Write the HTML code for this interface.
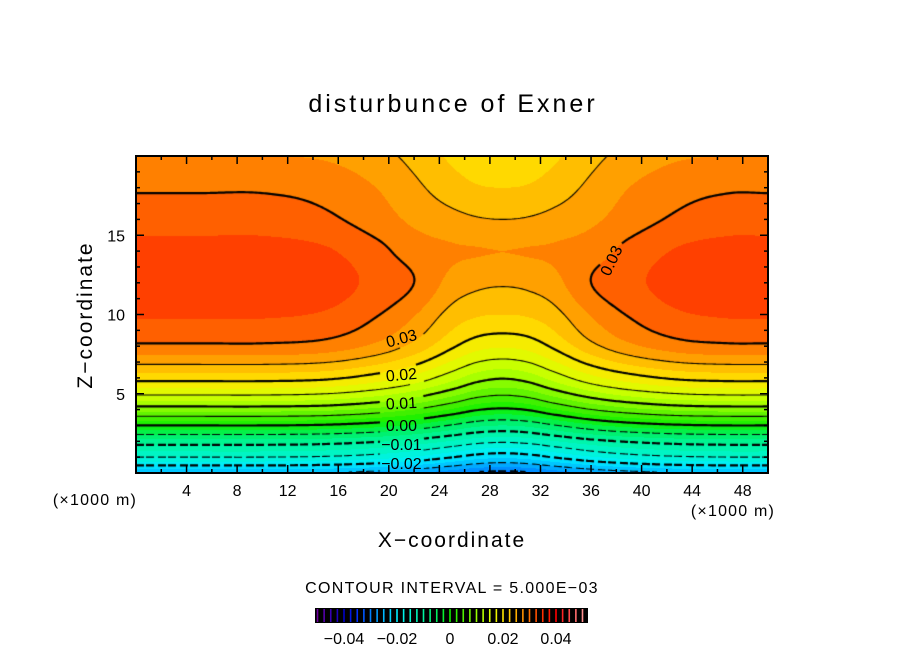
<!DOCTYPE html>
<html><head><meta charset="utf-8"><style>
html,body{margin:0;padding:0;background:#fff;}
#wrap{position:relative;width:904px;height:654px;overflow:hidden;font-family:"Liberation Sans",sans-serif;}
canvas{position:absolute;left:136px;top:156px;}
svg{position:absolute;left:0;top:0;}
</style></head><body>
<div id="wrap">
<canvas id="cv" width="632" height="317"></canvas>
<svg id="sv" width="904" height="654">
<text x="453" y="112" font-size="25" text-anchor="middle" letter-spacing="3">disturbunce of Exner</text>
<text x="452" y="547" font-size="21" text-anchor="middle" letter-spacing="2">X−coordinate</text>
<text transform="translate(92,315) rotate(-90)" font-size="21" text-anchor="middle" letter-spacing="2">Z−coordinate</text>
<text x="95" y="505" font-size="16" text-anchor="middle" letter-spacing="1.2">(×1000 m)</text>
<text x="733" y="516" font-size="16" text-anchor="middle" letter-spacing="1.2">(×1000 m)</text>
<text x="452" y="593" font-size="16" text-anchor="middle" letter-spacing="1.3">CONTOUR INTERVAL = 5.000E−03</text>
<g id="ticks"></g>
<g id="clabels"></g>
<rect x="136" y="156" width="632" height="317" fill="none" stroke="#000" stroke-width="2"/>
<g id="cbar"></g>
</svg>
</div>
<script>
const xStations=[0,5,10,15,19,22,25,27,29,31,33,36,39,43,47,50];
const zLevels=[0,1,2,3,4,5,6,8,10,12,14,16,18,20];
const colE=[-0.025,-0.015,-0.0085,0,0.0085,0.0155,0.021,0.0295,0.0328,0.0342,0.0335,0.0313,0.0297,0.0275];
const col05=[-0.0253,-0.0154,-0.0088,-0.0004,0.0081,0.015,0.0205,0.0289,0.0322,0.0336,0.0328,0.0305,0.0291,0.0272];
const col20=[-0.0262,-0.0164,-0.0097,-0.0015,0.0067,0.0135,0.0188,0.0269,0.0302,0.0318,0.0308,0.0287,0.0275,0.0259];
const col40=[-0.0274,-0.0178,-0.0109,-0.003,0.0049,0.0115,0.0167,0.0242,0.0277,0.0300,0.0288,0.027,0.0256,0.0242];
const col70=[-0.0292,-0.0199,-0.0127,-0.0053,0.0022,0.0085,0.0134,0.0204,0.024,0.0266,0.0278,0.0258,0.0236,0.022];
const col92=[-0.0305,-0.0214,-0.014,-0.0069,0.0002,0.0063,0.0111,0.0184,0.0228,0.0256,0.0276,0.0252,0.0227,0.0212];
const colC=[-0.031,-0.022,-0.0145,-0.0075,-0.0005,0.0055,0.0102,0.0178,0.0225,0.0253,0.0275,0.025,0.0225,0.021];
const exnerColumns=[colE,colE,colE,col05,col20,col40,col70,col92,colC,col92,col70,col40,col20,col05,colE,colE];
const xTickLabels=[4,8,12,16,20,24,28,32,36,40,44,48];
const zTickLabels=[5,10,15];
const cbarTickLabels=[-0.04,-0.02,0,0.02,0.04];
const cbarTickText=["−0.04","−0.02","0","0.02","0.04"];
const contourLabels=[
 {t:"0.03",x:21,z:8.5,r:-15},{t:"0.02",x:21,z:6.2,r:-5},{t:"0.01",x:21,z:4.4,r:-3},
 {t:"0.00",x:21,z:3.0,r:0},{t:"−0.01",x:21,z:1.8,r:0},{t:"−0.02",x:21,z:0.6,r:0},
 {t:"0.03",x:37.6,z:13.4,r:-65}];

const PX0=136,PY0=156,PW=632,PH=317;
const X=x=>PX0+x/50*PW;
const Z=z=>PY0+PH-z/20*PH;
const CX=v=>450+v*2650;
const NS='http://www.w3.org/2000/svg';

function herm(xs,ys,x){
  const n=xs.length;
  if(x<=xs[0])return ys[0]; if(x>=xs[n-1])return ys[n-1];
  let i=0; while(i<n-2&&x>xs[i+1])i++;
  const x0=xs[i],x1=xs[i+1],y0=ys[i],y1=ys[i+1],h=x1-x0;
  const sl=k=>k<=0?(ys[1]-ys[0])/(xs[1]-xs[0]):k>=n-1?(ys[n-1]-ys[n-2])/(xs[n-1]-xs[n-2]):(ys[k+1]-ys[k-1])/(xs[k+1]-xs[k-1]);
  const m0=sl(i),m1=sl(i+1),t=(x-x0)/h,t2=t*t,t3=t2*t;
  return (2*t3-3*t2+1)*y0+(t3-2*t2+t)*h*m0+(-2*t3+3*t2)*y1+(t3-t2)*h*m1;
}
function stationVals(z){return exnerColumns.map(c=>herm(zLevels,c,z));}

const stops=[[-0.05,[112,0,160]],[-0.04,[0,0,200]],[-0.035,[0,48,255]],[-0.03,[0,128,255]],[-0.025,[0,184,255]],[-0.02,[0,238,255]],[-0.015,[0,245,208]],[-0.01,[0,245,160]],[-0.005,[0,240,96]],[0,[16,240,0]],[0.005,[80,240,0]],[0.01,[152,255,0]],[0.015,[216,255,0]],[0.02,[255,230,0]],[0.025,[255,176,0]],[0.03,[255,112,0]],[0.035,[255,48,0]],[0.04,[255,0,0]],[0.05,[255,144,144]]];
function cmap(v){
  if(v<=stops[0][0])return stops[0][1];
  for(let i=0;i<stops.length-1;i++){const a=stops[i],b=stops[i+1];
    if(v<=b[0]){const t=(v-a[0])/(b[0]-a[0]);return a[1].map((c,k)=>Math.round(c+(b[1][k]-c)*t));}}
  return stops[stops.length-1][1];
}
function quant(v){return (Math.floor(v/0.0025)+0.5)*0.0025;}

const cv=document.getElementById('cv'),ctx=cv.getContext('2d');
const img=ctx.createImageData(PW,PH);
for(let py=0;py<PH;py++){
  const z=(PH-py-0.5)/PH*20, sv=stationVals(z);
  for(let px=0;px<PW;px++){
    const x=(px+0.5)/PW*50, v=herm(xStations,sv,x), c=cmap(quant(v)), o=(py*PW+px)*4;
    img.data[o]=c[0];img.data[o+1]=c[1];img.data[o+2]=c[2];img.data[o+3]=255;
  }
}
ctx.putImageData(img,0,0);

const S=2,GX=Math.floor(PW/S)+1,GY=Math.floor(PH/S)+1,G=[];
for(let j=0;j<GY;j++){const z=(PH-j*S)/PH*20,sv=stationVals(z),row=[];
  for(let i=0;i<GX;i++)row.push(herm(xStations,sv,i*S/PW*50));G.push(row);}
const boxes=contourLabels.map(l=>({x:X(l.x)-PX0,y:Z(l.z)-PY0,w:l.r<-45?11:22,h:l.r<-45?22:10}));
function masked(x,y){return boxes.some(b=>Math.abs(x-b.x)<b.w&&Math.abs(y-b.y)<b.h);}
ctx.strokeStyle='#000';ctx.lineCap='butt';
for(let k=-7;k<=7;k++){
  const L=k*0.005;ctx.lineWidth=(k%2===0)?2.2:1.1;ctx.beginPath();
  for(let j=0;j<GY-1;j++)for(let i=0;i<GX-1;i++){
    const a=G[j][i],b=G[j][i+1],c=G[j+1][i+1],d=G[j+1][i];
    const x0=i*S,y0=j*S,pts=[];
    const e=(p,q,xa,ya,xb,yb)=>{if((p<L)!==(q<L)){const t=(L-p)/(q-p);pts.push([xa+(xb-xa)*t,ya+(yb-ya)*t]);}};
    e(a,b,x0,y0,x0+S,y0);e(b,c,x0+S,y0,x0+S,y0+S);e(d,c,x0,y0+S,x0+S,y0+S);e(a,d,x0,y0,x0,y0+S);
    for(let p=0;p+1<pts.length;p+=2){
      const mx=(pts[p][0]+pts[p+1][0])/2,my=(pts[p][1]+pts[p+1][1])/2;
      if(masked(mx,my))continue;
      if(k<0&&(mx%11)>7)continue;
      ctx.moveTo(pts[p][0],pts[p][1]);ctx.lineTo(pts[p+1][0],pts[p+1][1]);
    }
  }
  ctx.stroke();
}

function mk(tag,attrs,parent){const el=document.createElementNS(NS,tag);for(const k in attrs)el.setAttribute(k,attrs[k]);parent.appendChild(el);return el;}
const tg=document.getElementById('ticks');
for(let x=2;x<50;x+=2){const len=(x%4===0)?8:4;
  let el=mk('line',{x1:X(x),x2:X(x),y1:PY0+PH,y2:PY0+PH-len,stroke:'#000','stroke-width':1.5},tg);
  
  
  el=mk('line',{x1:X(x),x2:X(x),y1:PY0,y2:PY0+len,stroke:'#000','stroke-width':1.5},tg);
  
  }
for(let z=1;z<20;z++){const len=(z%5===0)?8:4;
  let el=mk('line',{x1:PX0,x2:PX0+len,y1:Z(z),y2:Z(z),stroke:'#000','stroke-width':1.5},tg);
  
  
  el=mk('line',{x1:PX0+PW,x2:PX0+PW-len,y1:Z(z),y2:Z(z),stroke:'#000','stroke-width':1.5},tg);
  
  }
xTickLabels.forEach(v=>{const t=mk('text',{x:X(v),y:496,'font-size':16,'text-anchor':'middle'},tg);t.textContent=v;
  
  });
zTickLabels.forEach(v=>{const t=mk('text',{x:125,y:Z(v)+6,'font-size':16,'text-anchor':'end'},tg);t.textContent=v;
  
  });
const cl=document.getElementById('clabels');
contourLabels.forEach(l=>{const cx=X(l.x),cy=Z(l.z);
  const t=mk('text',{x:cx,y:cy+5.5,'font-size':16,'text-anchor':'middle',transform:`rotate(${l.r} ${cx} ${cy})`},cl);t.textContent=l.t;
  
  });
const cb=document.getElementById('cbar');
let r=mk('rect',{x:315,y:608,width:273,height:15,fill:'#000'},cb);


for(let k=-20;k<=20;k++){const v=k*0.0025,c=cmap(v);
  const ln=mk('line',{x1:CX(v),x2:CX(v),y1:609,y2:622,stroke:`rgb(${c[0]},${c[1]},${c[2]})`,'stroke-width':1.6},cb);
  
  }
cbarTickLabels.forEach((v,i)=>{const t=mk('text',{x:CX(v),y:644,'font-size':16,'text-anchor':'middle'},cb);t.textContent=cbarTickText[i];
  
  });
</script>
</body></html>
